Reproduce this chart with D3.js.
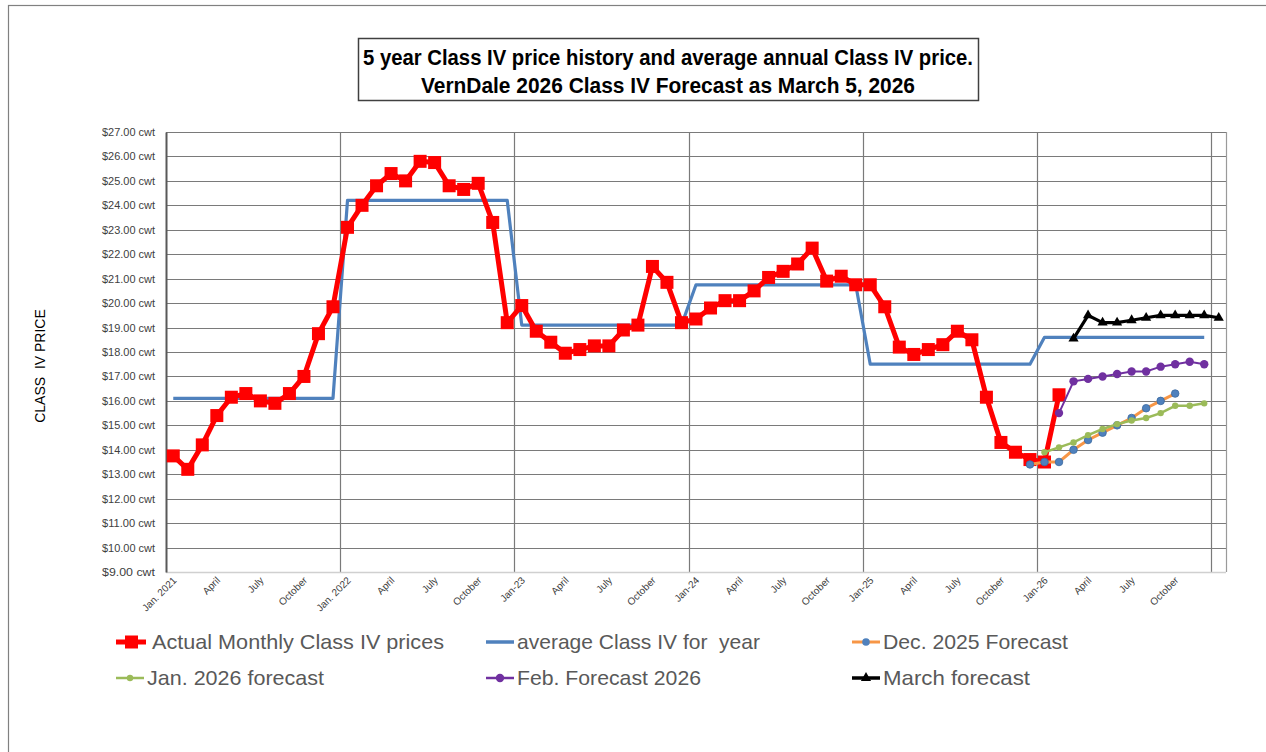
<!DOCTYPE html>
<html>
<head>
<meta charset="utf-8">
<script src="https://cdn.jsdelivr.net/npm/d3@7"></script>
<style>
  body { margin: 0; background: #fff; }
  svg { display: block; font-family: "Liberation Sans", Arial, sans-serif; }
</style>
</head>
<body>
<div id="wrapper"></div>
<script>
// ---------------------------------------------------
// DATA
// ---------------------------------------------------
const monthCount = 73 // Jan 2021 .. Jan 2027

// quarterly tick labels (index = month offset from Jan 2021)
const tickIndex = [0, 3, 6, 9, 12, 15, 18, 21, 24, 27, 30, 33, 36, 39, 42, 45, 48, 51, 54, 57, 60, 63, 66, 69]
const tickLabels = [
  'Jan. 2021', 'April', 'July', 'October',
  'Jan. 2022', 'April', 'July', 'October',
  'Jan-23', 'April', 'July', 'October',
  'Jan-24', 'April', 'July', 'October',
  'Jan-25', 'April', 'July', 'October',
  'Jan-26', 'April', 'July', 'October',
]

// actual monthly Class IV prices, Jan 2021 .. Feb 2026
const actualStart = 0
const actualValues = [
  13.75, 13.2, 14.2, 15.4, 16.15, 16.3, 16.0, 15.9, 16.3, 17.0, 18.75, 19.85,
  23.1, 24.0, 24.8, 25.3, 25.0, 25.8, 25.75, 24.8, 24.65, 24.9, 23.3, 19.2,
  19.9, 18.85, 18.4, 17.95, 18.1, 18.25, 18.25, 18.9, 19.1, 21.5, 20.85, 19.2,
  19.35, 19.8, 20.1, 20.1, 20.5, 21.05, 21.3, 21.6, 22.25, 20.9, 21.1, 20.75,
  20.75, 19.85, 18.2, 17.9, 18.1, 18.3, 18.85, 18.5, 16.15, 14.3, 13.9, 13.6,
  13.5, 16.25,
]

// annual average Class IV price, 2021 .. 2026
const avgYears = [2021, 2022, 2023, 2024, 2025, 2026]
const avgValues = [16.1, 24.2, 19.1, 20.75, 17.5, 18.6]

// Dec. 2025 forecast: Dec 2025 .. Oct 2026
const decStart = 59
const decValues = [13.4, 13.5, 13.5, 14.0, 14.4, 14.7, 15.0, 15.3, 15.7, 16.0, 16.3]

// Jan. 2026 forecast: Jan 2026 .. Dec 2026
const janStart = 60
const janValues = [13.9, 14.1, 14.3, 14.6, 14.85, 15.05, 15.2, 15.3, 15.5, 15.8, 15.8, 15.9]

// Feb. forecast 2026: Feb 2026 .. Dec 2026
const febStart = 61
const febValues = [15.5, 16.8, 16.9, 17.0, 17.1, 17.2, 17.2, 17.4, 17.5, 17.6, 17.5]

// March forecast: Mar 2026 .. Jan 2027
const marStart = 62
const marValues = [18.55, 19.5, 19.2, 19.2, 19.3, 19.4, 19.5, 19.5, 19.5, 19.5, 19.4]

const yTicks = [9, 10, 11, 12, 13, 14, 15, 16, 17, 18, 19, 20, 21, 22, 23, 24, 25, 26, 27]

// ---------------------------------------------------
// DIMENSIONS
// ---------------------------------------------------
const dimensions = {
  width: 1266,
  height: 752,
  plot: { left: 166, right: 1226, top: 132, bottom: 572 },
}

const toPoints = (start, values) => values.map((v, i) => ({ i: start + i, v }))

// blue line: each year's average repeated for its 12 months
const avgPoints = []
avgYears.forEach((y, k) => {
  for (let m = 0; m < 12; m++) avgPoints.push({ i: (y - 2021) * 12 + m, v: avgValues[k] })
})

const svg = d3.select('#wrapper').append('svg')
  .attr('width', dimensions.width)
  .attr('height', dimensions.height)

// outer chart frame
svg.append('rect')
  .attr('x', 8.5).attr('y', 5.5)
  .attr('width', 1400).attr('height', 900)
  .attr('fill', 'none').attr('stroke', '#808080').attr('stroke-width', 1.2)

// ---------------------------------------------------
// SCALES
// ---------------------------------------------------
const xScale = d3.scaleBand()
  .domain(d3.range(monthCount))
  .range([dimensions.plot.left, dimensions.plot.right])
  .padding(0)
const xc = (i) => xScale(i) + xScale.bandwidth() / 2

const yScale = d3.scaleLinear()
  .domain([9, 27])
  .range([dimensions.plot.bottom, dimensions.plot.top])

// ---------------------------------------------------
// GRID + AXES
// ---------------------------------------------------
const grid = svg.append('g')

grid.selectAll('line.h')
  .data(yTicks.slice(1))
  .join('line')
  .attr('x1', dimensions.plot.left).attr('x2', dimensions.plot.right)
  .attr('y1', (d) => Math.round(yScale(d)) + 0.5).attr('y2', (d) => Math.round(yScale(d)) + 0.5)
  .attr('stroke', '#7a7a7a').attr('stroke-width', 1.2)

// vertical year gridlines at category boundaries
grid.selectAll('line.v')
  .data(d3.range(12, monthCount, 12))
  .join('line')
  .attr('x1', (d) => Math.round(xScale(d)) + 0.5).attr('x2', (d) => Math.round(xScale(d)) + 0.5)
  .attr('y1', dimensions.plot.top).attr('y2', dimensions.plot.bottom)
  .attr('stroke', '#7a7a7a').attr('stroke-width', 1.2)

// right border
grid.append('line')
  .attr('x1', dimensions.plot.right + 0.5).attr('x2', dimensions.plot.right + 0.5)
  .attr('y1', dimensions.plot.top).attr('y2', dimensions.plot.bottom)
  .attr('stroke', '#9a9a9a').attr('stroke-width', 1.2)

// bottom axis line
grid.append('line')
  .attr('x1', dimensions.plot.left).attr('x2', dimensions.plot.right)
  .attr('y1', dimensions.plot.bottom + 0.5).attr('y2', dimensions.plot.bottom + 0.5)
  .attr('stroke', '#d0d0d0').attr('stroke-width', 1.5)

// y axis
const yAxis = svg.append('g')
  .attr('transform', `translate(${dimensions.plot.left},0)`)
  .call(d3.axisLeft(yScale).tickValues(yTicks).tickSize(0).tickPadding(11)
    .tickFormat((d) => `$${d3.format('.2f')(d)} cwt`))
yAxis.select('.domain').attr('stroke', '#595959').attr('stroke-width', 2)
yAxis.selectAll('text')
  .attr('fill', '#404040')
  .style('font-size', '11px')
  .attr('textLength', 53)
  .attr('lengthAdjust', 'spacingAndGlyphs')

// x axis labels (rotated)
svg.append('g')
  .selectAll('text')
  .data(tickIndex)
  .join('text')
  .attr('transform', (d) => `translate(${xc(d) + 4},${dimensions.plot.bottom + 9}) rotate(-45)`)
  .attr('text-anchor', 'end')
  .attr('fill', '#404040')
  .style('font-size', '10px')
  .text((d, k) => tickLabels[k])

// y axis title
svg.append('text')
  .attr('transform', `translate(45,366) rotate(-90)`)
  .attr('text-anchor', 'middle')
  .attr('fill', '#000')
  .style('font-size', '14px')
  .attr('xml:space', 'preserve')
  .text('CLASS  IV PRICE')

// ---------------------------------------------------
// TITLE
// ---------------------------------------------------
svg.append('rect')
  .attr('x', 358.5).attr('y', 38.5).attr('width', 620).attr('height', 62)
  .attr('fill', '#fff').attr('stroke', '#404040').attr('stroke-width', 1.5)

const titleLines = [
  '5 year Class IV price history and average annual Class IV price.',
  'VernDale 2026 Class IV Forecast as March 5, 2026',
]
const titleWidths = [610, 494]
titleLines.forEach((t, k) => {
  svg.append('text')
    .attr('x', 668).attr('y', 64.5 + k * 28.5)
    .attr('text-anchor', 'middle')
    .attr('textLength', titleWidths[k])
    .attr('lengthAdjust', 'spacingAndGlyphs')
    .style('font-weight', 'bold')
    .style('font-size', '22px')
    .text(t)
})

// ---------------------------------------------------
// SERIES
// ---------------------------------------------------
const line = d3.line().x((d) => xc(d.i)).y((d) => yScale(d.v))
const plot = svg.append('g')

// average per year
plot.append('path')
  .datum(avgPoints)
  .attr('d', line)
  .attr('fill', 'none').attr('stroke', '#4f81bd').attr('stroke-width', 3.2)
  .attr('stroke-linejoin', 'round')

// actual
const actual = toPoints(actualStart, actualValues)
plot.append('path')
  .datum(actual)
  .attr('d', line)
  .attr('fill', 'none').attr('stroke', '#ff0000').attr('stroke-width', 5)
  .attr('stroke-linejoin', 'round')
plot.selectAll('rect.actual')
  .data(actual)
  .join('rect')
  .attr('x', (d) => xc(d.i) - 6.5).attr('y', (d) => yScale(d.v) - 6.5)
  .attr('width', 13).attr('height', 13)
  .attr('fill', '#ff0000')

// Dec. 2025 forecast
const dec = toPoints(decStart, decValues)
plot.append('path')
  .datum(dec)
  .attr('d', line)
  .attr('fill', 'none').attr('stroke', '#f79646').attr('stroke-width', 3)
plot.selectAll('circle.dec')
  .data(dec)
  .join('circle')
  .attr('cx', (d) => xc(d.i)).attr('cy', (d) => yScale(d.v)).attr('r', 3.8)
  .attr('fill', '#4f81bd').attr('stroke', '#3b6aa0').attr('stroke-width', 0.8)

// Jan. 2026 forecast
const jan = toPoints(janStart, janValues)
plot.append('path')
  .datum(jan)
  .attr('d', line)
  .attr('fill', 'none').attr('stroke', '#9bbb59').attr('stroke-width', 2.5)
plot.selectAll('circle.jan')
  .data(jan)
  .join('circle')
  .attr('cx', (d) => xc(d.i)).attr('cy', (d) => yScale(d.v)).attr('r', 3.2)
  .attr('fill', '#9bbb59')

// Feb. forecast 2026
const feb = toPoints(febStart, febValues)
plot.append('path')
  .datum(feb)
  .attr('d', line)
  .attr('fill', 'none').attr('stroke', '#7030a0').attr('stroke-width', 2)
plot.selectAll('circle.feb')
  .data(feb)
  .join('circle')
  .attr('cx', (d) => xc(d.i)).attr('cy', (d) => yScale(d.v)).attr('r', 4.2)
  .attr('fill', '#7030a0')

// March forecast
const mar = toPoints(marStart, marValues)
plot.append('path')
  .datum(mar)
  .attr('d', line)
  .attr('fill', 'none').attr('stroke', '#000').attr('stroke-width', 3.2)
plot.selectAll('path.mar')
  .data(mar)
  .join('path')
  .attr('d', d3.symbol(d3.symbolTriangle, 45))
  .attr('transform', (d) => `translate(${xc(d.i)},${yScale(d.v)})`)
  .attr('fill', '#000')

// ---------------------------------------------------
// LEGEND
// ---------------------------------------------------
const legendItems = [
  { label: 'Actual Monthly Class IV prices', col: 0, row: 0, key: 'actual', w: 292 },
  { label: 'average Class IV for  year', col: 1, row: 0, key: 'avg', w: 243 },
  { label: 'Dec. 2025 Forecast', col: 2, row: 0, key: 'dec', w: 185 },
  { label: 'Jan. 2026 forecast', col: 0, row: 1, key: 'jan', w: 177 },
  { label: 'Feb. Forecast 2026', col: 1, row: 1, key: 'feb', w: 184 },
  { label: 'March forecast', col: 2, row: 1, key: 'mar', w: 147 },
]
const colX = [116, 486, 852]
const rowY = [642, 678]

const legend = svg.append('g')
legendItems.forEach((it) => {
  const g = legend.append('g')
    .attr('transform', `translate(${colX[it.col]},${rowY[it.row]})`)
  if (it.key === 'actual') {
    g.append('line').attr('x1', 0).attr('x2', 30).attr('stroke', '#ff0000').attr('stroke-width', 5)
    g.append('rect').attr('x', 9).attr('y', -6.5).attr('width', 13).attr('height', 13).attr('fill', '#ff0000')
  } else if (it.key === 'avg') {
    g.append('line').attr('x1', 0).attr('x2', 28).attr('stroke', '#4f81bd').attr('stroke-width', 3.5)
  } else if (it.key === 'dec') {
    g.append('line').attr('x1', 0).attr('x2', 28).attr('stroke', '#f79646').attr('stroke-width', 3)
    g.append('circle').attr('cx', 14).attr('r', 3.8).attr('fill', '#4f81bd')
  } else if (it.key === 'jan') {
    g.append('line').attr('x1', 0).attr('x2', 28).attr('stroke', '#9bbb59').attr('stroke-width', 2.5)
    g.append('circle').attr('cx', 14).attr('r', 3.2).attr('fill', '#9bbb59')
  } else if (it.key === 'feb') {
    g.append('line').attr('x1', 0).attr('x2', 28).attr('stroke', '#7030a0').attr('stroke-width', 2.5)
    g.append('circle').attr('cx', 14).attr('r', 4.2).attr('fill', '#7030a0')
  } else {
    g.append('line').attr('x1', 0).attr('x2', 28).attr('stroke', '#000').attr('stroke-width', 3.5)
    g.append('path').attr('d', d3.symbol(d3.symbolTriangle, 45)).attr('transform', 'translate(14,0)').attr('fill', '#000')
  }
  g.append('text')
    .attr('x', it.key === 'actual' ? 36 : 31)
    .attr('y', 0)
    .attr('dy', '0.35em')
    .attr('fill', '#595959')
    .attr('xml:space', 'preserve')
    .attr('textLength', it.w)
    .attr('lengthAdjust', 'spacingAndGlyphs')
    .style('font-size', '21px')
    .text(it.label)
})
</script>
</body>
</html>
